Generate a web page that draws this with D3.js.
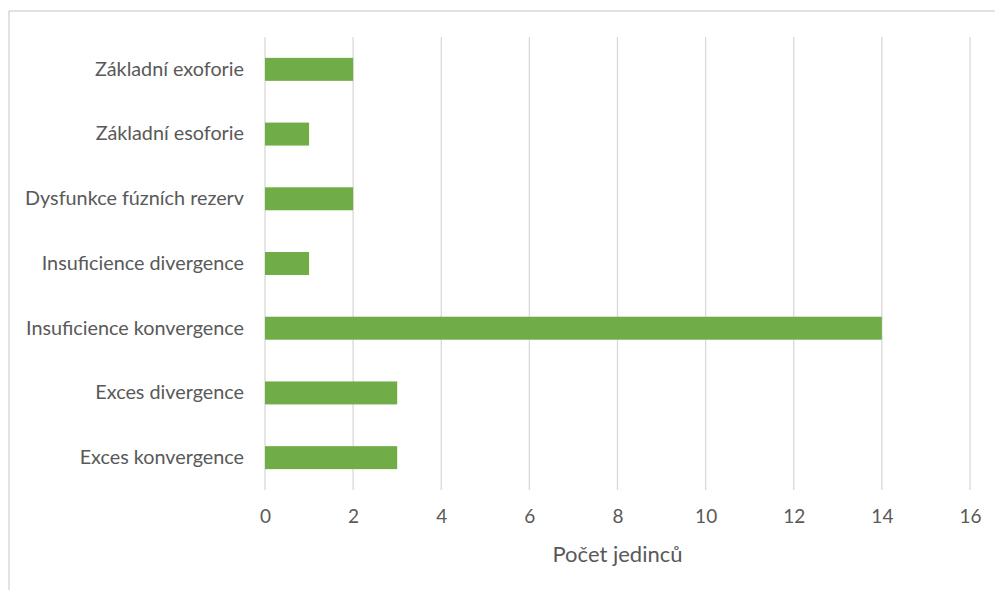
<!DOCTYPE html>
<html>
<head>
<meta charset="utf-8">
<script src="https://cdn.jsdelivr.net/npm/d3@7"></script>
<style>
  html, body { margin: 0; padding: 0; background: #fff; }
  svg { display: block; }
</style>
</head>
<body>
<svg id="chart" width="995" height="590"></svg>
<script>
// Diagnoses and number of individuals per diagnosis (top to bottom)
const categories = [
  "Základní exoforie",
  "Základní esoforie",
  "Dysfunkce fúzních rezerv",
  "Insuficience divergence",
  "Insuficience konvergence",
  "Exces divergence",
  "Exces konvergence"
];
const counts = [2, 1, 2, 1, 14, 3, 3];
const xTicks = [0, 2, 4, 6, 8, 10, 12, 14, 16];
const xTitle = "Počet jedinců";

const svg = d3.select("#chart");
const font = "Lato, 'Open Sans', sans-serif";
const textColor = "#595959";
const gridColor = "#d9d9d9";
const barColor = "#70ad47";

const plot = { left: 265, right: 970, top: 37, bottom: 490 };

// Outer chart frame (top and left edges visible)
svg.append("line").attr("x1", 9).attr("x2", 995).attr("y1", 11).attr("y2", 11)
  .attr("stroke", gridColor).attr("stroke-width", 1.5);
svg.append("line").attr("x1", 9).attr("x2", 9).attr("y1", 11).attr("y2", 590)
  .attr("stroke", gridColor).attr("stroke-width", 1.5);

const x = d3.scaleLinear().domain([0, 16]).range([plot.left, plot.right]);
const y = d3.scaleBand().domain(categories).range([plot.top, plot.bottom])
  .paddingInner(0.645).paddingOuter(0.3225);

// Vertical gridlines
svg.append("g").selectAll("line").data(xTicks).join("line")
  .attr("x1", d => x(d)).attr("x2", d => x(d))
  .attr("y1", plot.top).attr("y2", plot.bottom)
  .attr("stroke", gridColor).attr("stroke-width", 1.3);

// Bars
svg.append("g").selectAll("rect").data(categories).join("rect")
  .attr("x", x(0))
  .attr("y", d => y(d))
  .attr("width", (d, i) => x(counts[i]) - x(0))
  .attr("height", y.bandwidth())
  .attr("fill", barColor);

// Category axis labels
const yAxis = d3.axisLeft(y).tickSize(0).tickPadding(21);
const gy = svg.append("g").attr("transform", `translate(${plot.left},0)`).call(yAxis);
gy.select(".domain").remove();
gy.selectAll("text").attr("fill", textColor).style("font-family", font).style("font-size", "19.8px");

// Value axis labels
const xAxis = d3.axisBottom(x).tickValues(xTicks).tickSize(0).tickPadding(20);
const gx = svg.append("g").attr("transform", `translate(0,${plot.bottom})`).call(xAxis);
gx.select(".domain").remove();
gx.selectAll("text").attr("fill", textColor).style("font-family", font).style("font-size", "19px");

// Axis title
svg.append("text")
  .attr("x", (plot.left + plot.right) / 2)
  .attr("y", 562)
  .attr("text-anchor", "middle")
  .attr("fill", textColor)
  .style("font-family", font)
  .style("font-size", "22px")
  .text(xTitle);
</script>
</body>
</html>
